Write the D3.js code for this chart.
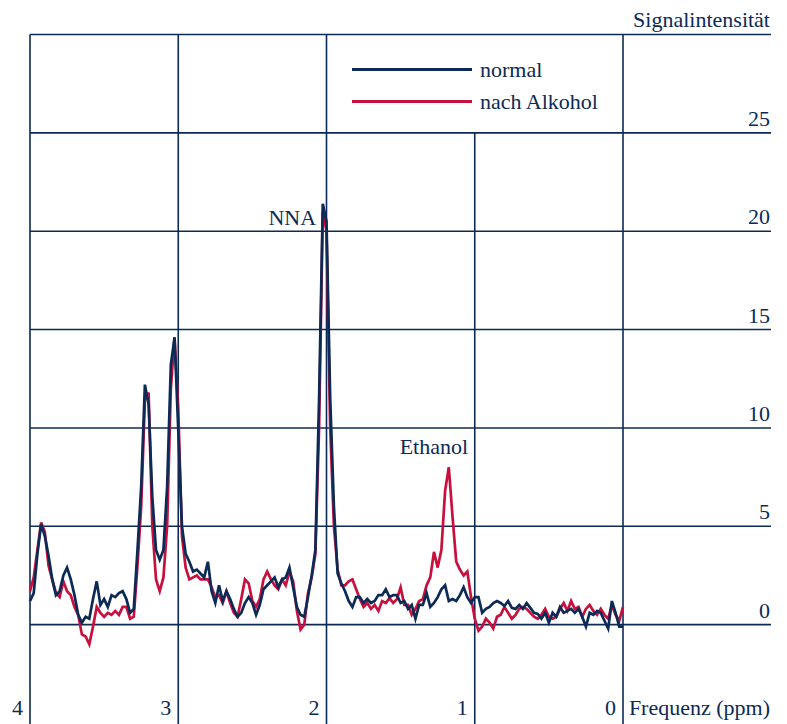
<!DOCTYPE html>
<html>
<head>
<meta charset="utf-8">
<script src="https://cdn.jsdelivr.net/npm/d3@7"></script>
<style>
  html, body { margin: 0; padding: 0; background: #fff; }
</style>
</head>
<body>
<svg id="chart" width="787" height="724"></svg>
<script>
// spectrum sampled from 4 ppm down to 0 ppm
const PPM_START = 4;
const PPM_STEP = 0.025;

const normal = [
  1.2, 1.6, 3.6, 5.1, 4.5, 3.5, 2.3, 1.5, 1.7, 2.5,
  2.9, 2.3, 1.5, 0.5, 0.1, 0.4, 0.3, 1.3, 2.2, 1.0,
  1.3, 0.9, 1.5, 1.4, 1.6, 1.7, 1.3, 0.6, 0.8, 3.8,
  7.0, 12.2, 11.2, 6.5, 3.8, 3.3, 3.8, 7.0, 13.2, 14.6,
  9.9, 5.0, 3.6, 3.2, 2.7, 2.8, 2.6, 2.4, 3.2, 1.7,
  1.1, 2.0, 1.2, 1.7, 1.3, 0.8, 0.4, 0.6, 1.1, 1.4,
  1.1, 0.5, 1.0, 1.8, 2.0, 2.2, 2.4, 1.9, 2.3, 2.4,
  2.9, 1.9, 0.9, 0.5, 0.4, 1.4, 2.5, 3.8, 11.5, 21.4,
  20.5, 11.5, 6.0, 2.6, 2.1, 1.7, 1.2, 0.9, 1.4, 1.4,
  1.1, 1.3, 1.1, 1.2, 1.5, 1.5, 1.8, 1.4, 1.5, 1.5,
  1.1, 1.2, 0.8, 1.0, 0.3, 1.0, 1.0, 1.6, 0.9, 1.1,
  1.4, 1.8, 2.0, 1.2, 1.3, 1.2, 1.5, 1.9, 1.4, 1.1,
  1.4, 1.4, 0.6, 0.8, 0.9, 1.1, 1.2, 1.1, 0.95, 1.2,
  0.85, 0.8, 1.0, 0.8, 1.1, 0.85, 0.6, 0.55, 0.3, 0.6,
  0.1, 0.6, 0.4, 0.9, 0.6, 0.7, 0.8, 0.6, 0.8, 0.4,
  -0.1, 0.6, 0.5, 0.7, 0.6, 0.2, -0.2, 1.2, 0.6, -0.1,
  -0.1
];

const nachAlkohol = [
  1.7, 2.4, 3.8, 5.2, 4.7, 3.0, 2.3, 1.6, 1.4, 2.2,
  1.7, 1.5, 0.9, 0.5, -0.5, -0.6, -1.0, -0.1, 0.9, 0.6,
  0.4, 0.6, 0.5, 0.7, 0.5, 0.9, 0.9, 0.3, 0.4, 3.0,
  6.0, 11.4, 11.8, 5.0, 2.3, 1.7, 2.4, 5.0, 12.0, 14.6,
  11.0, 4.5, 2.9, 2.3, 2.4, 2.5, 2.3, 2.3, 2.3, 1.9,
  1.4, 1.5, 1.1, 1.7, 1.1, 0.6, 0.4, 1.3, 2.3, 2.1,
  1.2, 0.9, 1.3, 2.3, 2.7, 2.3, 2.0, 1.8, 2.3, 2.0,
  2.7, 2.2, 0.7, -0.25, 0.0, 1.6, 2.4, 3.6, 10.0, 21.0,
  20.0, 10.0, 5.0, 2.8, 2.0, 2.0, 2.2, 2.3, 1.8, 1.3,
  0.9, 1.1, 0.8, 1.0, 0.7, 1.2, 1.1, 1.35, 1.1, 1.3,
  1.9, 1.0, 1.0, 0.5, 0.8, 1.2, 1.3, 2.0, 2.4, 3.7,
  2.9, 3.8, 6.8, 8.0, 5.5, 3.2, 2.8, 2.5, 2.7, 1.4,
  0.3, -0.3, -0.1, 0.3, 0.1, -0.2, 0.4, 0.5, 0.9, 0.6,
  0.3, 0.5, 0.8, 0.9, 0.8, 0.6, 0.4, 0.3, 0.5, 0.8,
  0.4, 0.3, 0.4, 0.8, 1.1, 0.7, 1.2, 0.8, 0.9, 0.4,
  0.8, 1.0, 0.7, 0.5, 0.8, 0.5, 0.3, 1.0, 0.5, 0.2,
  0.9
];

const xTicks = [4, 3, 2, 1, 0];
const yTicks = [0, 5, 10, 15, 20, 25];
const yGrid = [0, 5, 10, 15, 20, 25, 30];

const seriesNames = ["normal", "nach Alkohol"];
const seriesColors = ["#0b2a55", "#c8103f"];

const peakLabels = [
  { text: "NNA", ppm: 2.07, value: 20.3 },
  { text: "Ethanol", ppm: 1.045, value: 8.7 }
];

const NAVY = "#0b2a55";

const svg = d3.select("#chart");
const x = d3.scaleLinear().domain([4, 0]).range([30, 623]);
const y = d3.scaleLinear().domain([-5, 30]).range([723, 34.5]);
const rightEdge = 771;

function label(sel) {
  return sel
    .style("font-family", '"Liberation Serif"')
    .style("font-size", "22px")
    .style("fill", NAVY);
}

// horizontal grid
svg.append("g")
  .selectAll("line")
  .data(yGrid)
  .join("line")
    .attr("x1", x(4)).attr("x2", rightEdge)
    .attr("y1", d => y(d)).attr("y2", d => y(d))
    .attr("stroke", NAVY).attr("stroke-width", 1.6);

// vertical grid (1 ppm line stops below the legend)
svg.append("g")
  .selectAll("line")
  .data(xTicks)
  .join("line")
    .attr("x1", d => x(d)).attr("x2", d => x(d))
    .attr("y1", d => d === 1 ? y(25) : y(30))
    .attr("y2", 724)
    .attr("stroke", NAVY).attr("stroke-width", 1.6);

// y labels on the right
svg.append("g")
  .selectAll("text")
  .data(yTicks)
  .join("text")
    .attr("x", 770)
    .attr("y", d => y(d) - 7)
    .attr("text-anchor", "end")
    .call(label)
    .text(d => d);

svg.append("text")
  .attr("x", 770).attr("y", 27)
  .attr("text-anchor", "end")
  .call(label)
  .text("Signalintensität");

// x labels at the bottom
svg.append("g")
  .selectAll("text")
  .data(xTicks)
  .join("text")
    .attr("x", d => x(d) - 7)
    .attr("y", 715)
    .attr("text-anchor", "end")
    .call(label)
    .text(d => d);

svg.append("text")
  .attr("x", 770).attr("y", 715)
  .attr("text-anchor", "end")
  .call(label)
  .text("Frequenz (ppm)");

// spectra, normal drawn on top
const line = d3.line()
  .x((d, i) => x(PPM_START - i * PPM_STEP))
  .y(d => y(d));

[[nachAlkohol, seriesColors[1]], [normal, seriesColors[0]]].forEach(([data, color]) => {
  svg.append("path")
    .datum(data)
    .attr("fill", "none")
    .attr("stroke", color)
    .attr("stroke-width", 2.7)
    .attr("stroke-linejoin", "miter")
    .attr("d", line);
});

// peak labels
svg.append("g")
  .selectAll("text")
  .data(peakLabels)
  .join("text")
    .attr("x", d => x(d.ppm))
    .attr("y", d => y(d.value))
    .attr("text-anchor", "end")
    .call(label)
    .text(d => d.text);

// legend
const legend = svg.append("g");
seriesNames.forEach((name, i) => {
  const ly = 69.5 + i * 32;
  legend.append("line")
    .attr("x1", 352).attr("x2", 472)
    .attr("y1", ly).attr("y2", ly)
    .attr("stroke", seriesColors[i]).attr("stroke-width", 3);
  legend.append("text")
    .attr("x", 480).attr("y", ly + 7)
    .call(label)
    .text(name);
});
</script>
</body>
</html>
